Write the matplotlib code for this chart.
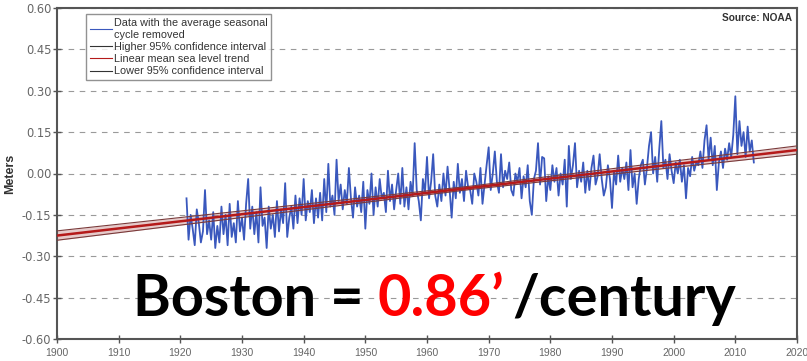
import numpy as np
import matplotlib
matplotlib.use("Agg")
import matplotlib.pyplot as plt
from matplotlib.lines import Line2D

# ---------------- data ----------------
start_year = 1921.0
samples_per_year = 3
sea_level = [
    -0.09, -0.24, -0.15,
    -0.20, -0.26, -0.13,
    -0.18, -0.25, -0.21,
    -0.06, -0.22, -0.17,
    -0.24, -0.14, -0.27,
    -0.19, -0.25, -0.12,
    -0.22, -0.15, -0.26,
    -0.11, -0.23, -0.18,
    -0.25, -0.10, -0.21,
    -0.16, -0.24, -0.11,
    -0.02, -0.20, -0.12,
    -0.22, -0.14, -0.25,
    -0.05, -0.19, -0.16,
    -0.27, -0.12, -0.20,
    -0.15, -0.23, -0.10,
    -0.21, -0.13, -0.18,
    -0.035, -0.23, -0.16,
    -0.12, -0.20, -0.08,
    -0.18, -0.09, -0.15,
    -0.02, -0.17, -0.10,
    -0.14, -0.06, -0.18,
    -0.09, -0.16, -0.07,
    -0.17, -0.02, -0.14,
    0.035, -0.12, -0.08,
    -0.15, 0.05, -0.10,
    -0.04, -0.13, -0.06,
    -0.11, 0.02, -0.09,
    -0.16, -0.05, -0.12,
    -0.08, -0.14, -0.03,
    -0.20, -0.06, -0.11,
    0.00, -0.15, -0.05,
    -0.12, -0.02, -0.09,
    -0.07, -0.14, 0.01,
    -0.10, -0.04, -0.13,
    -0.06, 0.00, -0.11,
    0.02, -0.12, -0.05,
    -0.13, -0.03, -0.08,
    0.11, -0.06, -0.10,
    -0.17, -0.02, -0.07,
    0.06, -0.09, -0.03,
    0.07, -0.08, -0.12,
    -0.04, -0.10, 0.00,
    -0.08, 0.025, -0.06,
    -0.16, -0.03, -0.09,
    0.035, -0.07, -0.02,
    -0.10, 0.01, -0.05,
    -0.06, -0.11, 0.00,
    -0.03, -0.08, 0.02,
    -0.11, -0.04, 0.03,
    0.095, -0.06, 0.00,
    0.08, -0.03, -0.07,
    0.07, -0.05, 0.01,
    -0.02, 0.04, -0.06,
    -0.08, 0.00, -0.03,
    0.02, -0.09, -0.01,
    -0.05, 0.03, -0.10,
    -0.15, -0.02, 0.01,
    0.11, -0.04, 0.06,
    0.055, -0.10, -0.01,
    -0.06, 0.03, -0.03,
    0.02, -0.08, 0.00,
    -0.04, 0.05, -0.12,
    0.10, -0.02, 0.03,
    0.11, -0.05, 0.01,
    -0.03, 0.04, -0.07,
    0.01, -0.06, 0.02,
    0.065, -0.04, -0.01,
    0.07, -0.02, -0.08,
    -0.05, 0.03, -0.02,
    -0.125, 0.01, -0.04,
    0.065, -0.03, 0.02,
    -0.02, 0.04, -0.06,
    0.085, -0.05, 0.00,
    -0.11, -0.02, 0.03,
    0.05, -0.04, 0.02,
    0.10, 0.15, 0.00,
    0.06, -0.03, 0.09,
    0.19, 0.02, 0.05,
    -0.02, 0.07, 0.01,
    -0.035, 0.04, 0.00,
    0.05, -0.03, 0.03,
    -0.09, 0.02, -0.01,
    0.06, 0.01, 0.04,
    0.03, 0.08, 0.02,
    0.12, 0.175, 0.05,
    0.13, 0.03, 0.10,
    -0.06, 0.04, 0.08,
    0.02, 0.09, 0.05,
    0.11, 0.06, 0.14,
    0.28, 0.07, 0.19,
    0.10, 0.15, 0.06,
    0.17, 0.08, 0.12,
    0.04,
]
years = start_year + np.arange(len(sea_level)) / samples_per_year

trend_years = [1900, 1967, 2020]
trend_mean = [-0.225, -0.052, 0.085]
trend_upper = [-0.208, -0.046, 0.100]
trend_lower = [-0.242, -0.058, 0.070]

x_ticks = list(range(1900, 2021, 10))
y_ticks = [0.60, 0.45, 0.30, 0.15, 0.00, -0.15, -0.30, -0.45, -0.60]

legend_labels = ["Data with the average seasonal\ncycle removed",
                 "Higher 95% confidence interval",
                 "Linear mean sea level trend",
                 "Lower 95% confidence interval"]

# ---------------- plot ----------------
fig = plt.figure(figsize=(8.07, 3.61), dpi=100)
ax = fig.add_axes([57/807, 22/361, 740/807, 331/361])

ax.fill_between(trend_years, trend_lower, trend_upper, color="#c98a8a", alpha=0.45, lw=0, zorder=2)
ax.plot(years, sea_level, color="#3a58bd", lw=1.3, zorder=3)
ax.plot(trend_years, trend_upper, color="#7a3a3a", lw=0.8, zorder=4)
ax.plot(trend_years, trend_lower, color="#7a3a3a", lw=0.8, zorder=4)
ax.plot(trend_years, trend_mean, color="#b51a1a", lw=1.8, zorder=5)

ax.set_xlim(1900, 2020)
ax.set_ylim(-0.60, 0.60)
ax.set_xticks(x_ticks)
ax.set_yticks(y_ticks)
ax.set_yticklabels([f"{v:.2f}" for v in y_ticks])
ax.yaxis.grid(True, linestyle=(0, (5, 5)), color="#9a9a9a", lw=0.8)
ax.set_axisbelow(True)
ax.tick_params(direction="inout", length=6, width=1, colors="#555555",
               labelcolor="#666666")
ax.tick_params(axis="y", pad=1)
for s in ax.spines.values():
    s.set_color("#555555")
    s.set_linewidth(1.5)
for lab in ax.get_xticklabels():
    lab.set_family("Liberation Sans")
    lab.set_fontsize(7.5)
for lab in ax.get_yticklabels():
    lab.set_family("DejaVu Sans")
    lab.set_fontsize(8.3)

ax.set_ylabel("Meters", fontsize=9, fontweight="bold", family="Liberation Sans",
              color="#333333", labelpad=4)

handles = [Line2D([], [], color="#3a58bd", lw=0.8),
           Line2D([], [], color="#333333", lw=0.8),
           Line2D([], [], color="#b51a1a", lw=0.8),
           Line2D([], [], color="#333333", lw=0.8)]
leg = ax.legend(handles, legend_labels, loc="upper left", bbox_to_anchor=(0.032, 0.997),
                frameon=True, fancybox=False, handlelength=2.0,
                handletextpad=0.2, borderpad=0.35, labelspacing=0.2,
                prop={"family": "Liberation Sans", "size": 7.8})
leg.get_frame().set_edgecolor("#777777")
leg.get_frame().set_linewidth(1.0)
for t in leg.get_texts():
    t.set_color("#333333")

ax.text(0.993, 0.985, "Source: NOAA", transform=ax.transAxes, ha="right", va="top",
        fontsize=7.3, fontweight="bold", family="Liberation Sans", color="#333333")

# headline
fs = 41.5
fam = "Lato"
yc = 1 - 300/361
t1 = fig.text(133/807, yc, "Boston = ", fontsize=fs, fontweight="bold",
              family=fam, color="black", va="center", ha="left")
fig.canvas.draw()
r = fig.canvas.get_renderer()
bb = t1.get_window_extent(r)
t2 = fig.text(bb.x1/807, yc, "0.86’", fontsize=fs, fontweight="bold",
              family=fam, color="#ff0000", va="center", ha="left")
bb2 = t2.get_window_extent(r)
t3 = fig.text((bb2.x1 + 8)/807, yc, "/century", fontsize=fs, fontweight="bold",
              family=fam, color="black", va="center", ha="left")

fig.savefig("out.png", dpi=100)
